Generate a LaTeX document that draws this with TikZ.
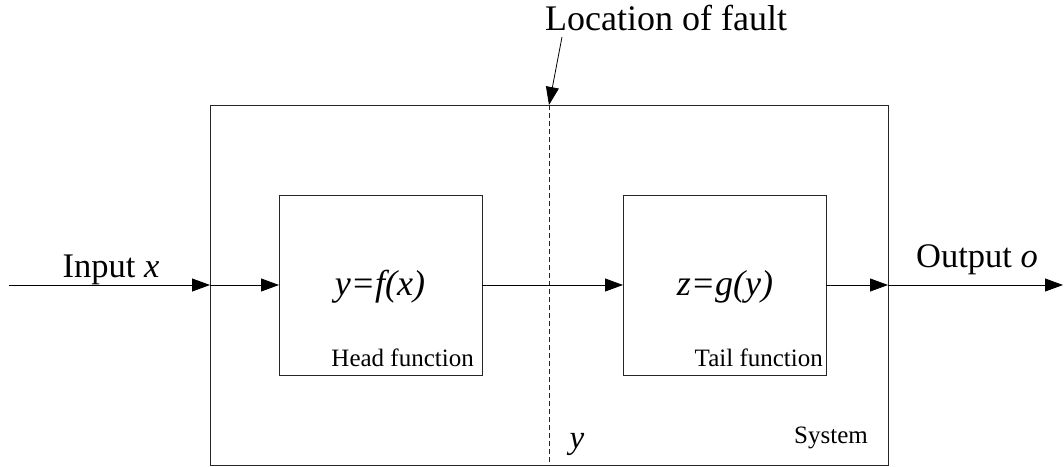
\documentclass[tikz,border=0pt]{standalone}
\usepackage{fontspec}
\setmainfont{Liberation Serif}
\usetikzlibrary{arrows.meta}
\tikzset{
  box/.style={draw=black!85, line width=0.9pt, inner sep=0pt, outer sep=0pt},
  arr/.style={draw=black, line width=0.8pt, -{Triangle[length=18pt,width=13pt]}},
  big/.style={font=\fontsize{34.5}{38}\selectfont, inner sep=0pt},
  small/.style={font=\fontsize{25}{28}\selectfont, inner sep=0pt},
  fn/.style={font=\fontsize{36}{40}\selectfont\itshape, inner sep=0pt}
}
\begin{document}
\begin{tikzpicture}[x=1pt,y=-1pt]
\useasboundingbox (0,0) rectangle (1064,466);
\node[box, minimum width=678pt, minimum height=360pt] (sys) at (549,285) {};
\node[box, minimum width=203pt, minimum height=180pt] (head) at (380.5,285) {};
\node[box, minimum width=203pt, minimum height=180pt] (tail) at (724.5,285) {};
\draw[black!85, line width=0.8pt, dash pattern=on 5pt off 3pt] (sys.north) -- (sys.south);
% texts
\node[big, anchor=base west, font=\fontsize{36}{40}\selectfont] (loc) at (545,30) {Location of fault};
\node[big, anchor=base] (inp) at (111,277) {Input \textit{x}};
\node[big, anchor=base] (outp) at (977,267) {Output \textit{o}};
\node[fn] (f) at (380,287) {y=f(x)};
\node[fn] (g) at (725,287) {z=g(y)};
\node[small, anchor=base east] (hf) at (474,366) {Head function};
\node[small, anchor=base east] (tf) at (823,366) {Tail function};
\node[small, anchor=base east] (sl) at (868,443) {System};
\node[anchor=base, inner sep=0pt, font=\fontsize{33}{36}\selectfont\itshape] (yl) at (577,448) {y};
% connectors
\coordinate (in) at (9,285);
\coordinate (out) at (1063,285);
\coordinate (lf) at (562,37);
\draw[arr] (in) -- (sys.west);
\draw[arr] (sys.west) -- (head.west);
\draw[arr] (head.east) -- (tail.west);
\draw[arr] (tail.east) -- (sys.east);
\draw[arr] (sys.east) -- (out);
\draw[arr] (lf) -- (sys.north);
\end{tikzpicture}
\end{document}
